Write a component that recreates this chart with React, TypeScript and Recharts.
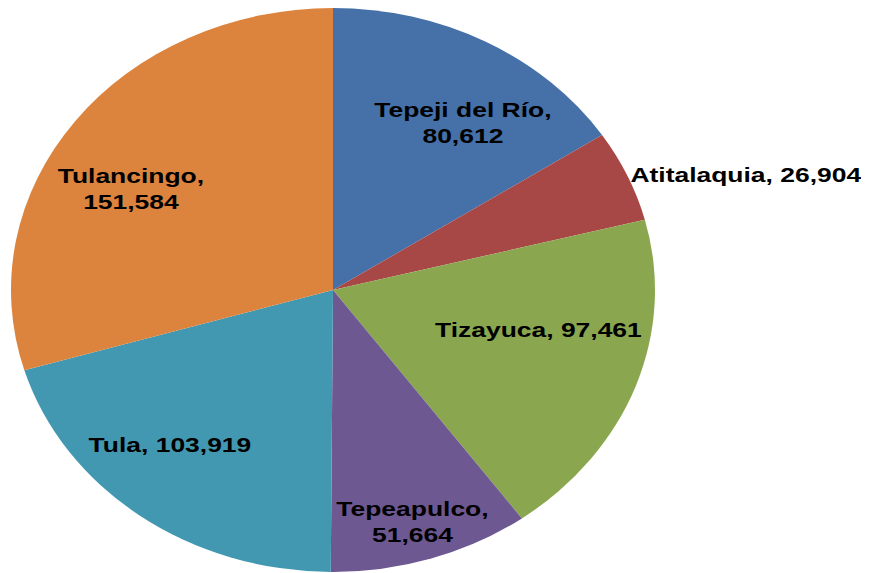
import React from "react";
import { PieChart, Pie, Cell } from "recharts";

const municipios = ["Tepeji del Río", "Atitalaquia", "Tizayuca", "Tepeapulco", "Tula", "Tulancingo"];
const poblacion = [80612, 26904, 97461, 51664, 103919, 151584];
const colores = ["#4670A8", "#A84846", "#8AA750", "#6E5892", "#4398B1", "#DC843E"];

// label placement relative to the ellipse (fraction of radius along x / y), anchor and wrapping
const labelFx = [0.85, 1.01, 0.678, 0.809, 0.843, 0.783];
const labelFy = [0.673, 1.007, 0.413, 0.864, 0.688, 0.599];
const labelAnchor = ["middle", "start", "middle", "middle", "middle", "middle"];
const labelWrap = [true, false, false, true, false, true];

const data = municipios.map((name, i) => ({ name, value: poblacion[i] }));

const K = 322 / 282; // horizontal stretch of the pie (ellipse)
const R = 282;
const CX = (333 - 8) / K;
const CY = 282;
const W = 861;
const H = 565;
const TEXT_SX = 1.13;
const RAD = Math.PI / 180;

const renderLabel = (props: any) => {
  const { midAngle, index, name, value } = props;
  const lx = CX + labelFx[index] * R * Math.cos(midAngle * RAD);
  const ly = CY - labelFy[index] * R * Math.sin(midAngle * RAD);
  const num = Number(value).toLocaleString("en-US");
  const common = {
    fontFamily: "'Liberation Sans', Arial, sans-serif",
    fontWeight: 700,
    fontSize: 20.5,
    fill: "#000000",
    textAnchor: labelAnchor[index] as any,
  };
  if (labelWrap[index]) {
    return (
      <g transform={`translate(${lx},${ly}) scale(${TEXT_SX},1)`}>
        <text x={0} y={-6} {...common}>
          {`${name},`}
        </text>
        <text x={0} y={20} {...common}>
          {num}
        </text>
      </g>
    );
  }
  return (
    <g transform={`translate(${lx},${ly}) scale(${TEXT_SX},1)`}>
      <text x={0} y={7} {...common}>
        {`${name}, ${num}`}
      </text>
    </g>
  );
};

export default function App() {
  return (
    <div style={{ width: W, height: H, overflow: "hidden", position: "relative" }}>
      <div
        style={{
          width: 800,
          height: H,
          transform: `scaleX(${K})`,
          transformOrigin: "0 0",
        }}
      >
        <PieChart
          width={800}
          height={H}
          margin={{ top: 0, right: 0, bottom: 0, left: 0 }}
          style={{ overflow: "visible" }}
        >
          <Pie
            data={data}
            dataKey="value"
            nameKey="name"
            cx={CX}
            cy={CY}
            outerRadius={R}
            startAngle={90}
            endAngle={-270}
            stroke="none"
            label={renderLabel}
            labelLine={false}
            isAnimationActive={false}
          >
            {data.map((d, i) => (
              <Cell key={d.name} fill={colores[i]} />
            ))}
          </Pie>
        </PieChart>
      </div>
    </div>
  );
}
